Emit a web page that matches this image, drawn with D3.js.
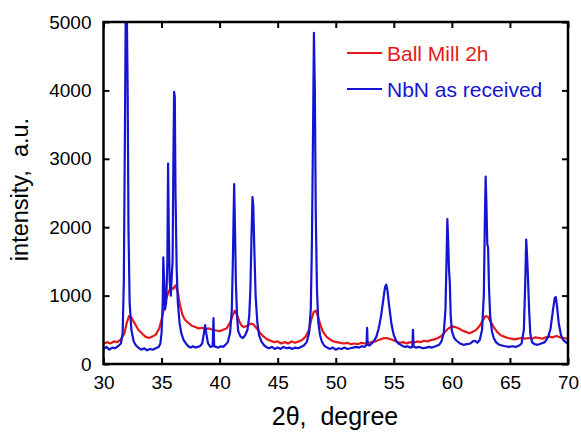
<!DOCTYPE html>
<html>
<head>
<meta charset="utf-8">
<script src="https://cdn.jsdelivr.net/npm/d3@7"></script>
<style>
  html, body { margin: 0; padding: 0; background: #fff; }
  svg { display: block; font-family: Arial, "Liberation Sans", sans-serif; }
</style>
</head>
<body>
<svg id="chart" width="581" height="434"></svg>
<script>
// ---- data (2θ in degrees, intensity in a.u.) ----
const seriesNames = ["Ball Mill 2h", "NbN as received"];
const seriesColors = ["#e41a1a", "#1414d2"];
const xTicks = [30, 35, 40, 45, 50, 55, 60, 65, 70];
const yTicks = [0, 1000, 2000, 3000, 4000, 5000];

const ballMill2h = [
  [30.0,290],[30.3,320],[30.6,300],[30.9,330],[31.2,320],[31.5,360],[31.8,450],[32.0,600],[32.2,700],[32.4,680],
  [32.6,620],[32.8,560],[33.0,500],[33.3,450],[33.6,400],[33.9,380],[34.2,400],[34.5,430],[34.8,520],[35.0,650],
  [35.2,800],[35.4,950],[35.6,1050],[35.8,1120],[36.0,1100],[36.2,1150],[36.4,1050],[36.6,850],[36.8,720],[37.0,650],
  [37.3,600],[37.6,560],[37.9,540],[38.2,520],[38.5,530],[38.8,510],[39.1,520],[39.4,500],[39.7,490],[40.0,480],
  [40.3,500],[40.6,520],[40.9,600],[41.1,700],[41.3,780],[41.5,720],[41.7,620],[41.9,560],[42.1,540],[42.4,560],
  [42.7,590],[42.9,580],[43.2,520],[43.5,450],[43.8,400],[44.1,360],[44.4,340],[44.7,320],[45.0,330],[45.3,300],
  [45.6,320],[45.9,300],[46.2,330],[46.5,310],[46.8,330],[47.1,350],[47.4,400],[47.7,500],[47.9,650],[48.1,760],
  [48.3,780],[48.5,680],[48.7,560],[48.9,470],[49.2,400],[49.5,360],[49.8,330],[50.1,320],[50.4,310],[50.7,300],
  [51.0,310],[51.3,290],[51.6,300],[51.9,290],[52.2,310],[52.5,300],[52.8,310],[53.1,320],[53.4,330],[53.7,350],
  [54.0,370],[54.3,380],[54.6,370],[54.9,350],[55.2,330],[55.5,310],[55.8,320],[56.1,300],[56.4,320],[56.7,310],
  [57.0,330],[57.3,320],[57.6,340],[57.9,330],[58.2,350],[58.5,360],[58.8,380],[59.1,410],[59.4,470],[59.7,520],
  [60.0,550],[60.3,540],[60.6,520],[60.9,490],[61.2,470],[61.5,450],[61.8,470],[62.1,500],[62.4,560],[62.7,650],
  [62.9,700],[63.1,690],[63.3,630],[63.6,540],[63.9,470],[64.2,420],[64.5,400],[64.8,380],[65.1,370],[65.4,360],
  [65.7,370],[66.0,380],[66.3,370],[66.6,380],[66.9,370],[67.2,390],[67.5,380],[67.8,370],[68.1,390],[68.4,400],
  [68.7,390],[69.0,410],[69.3,390],[69.6,380],[70.0,370]
];

const nbnAsReceived = [
  [30.0,220],[30.25,250],[30.5,210],[30.75,240],[31.0,230],[31.25,260],[31.5,300],[31.65,450],[31.75,1200],[31.85,3500],
  [31.92,5300],[32.0,5300],[32.08,4000],[32.15,2000],[32.25,900],[32.4,500],[32.6,330],[32.8,270],[33.0,240],[33.25,210],
  [33.5,230],[33.75,200],[34.0,220],[34.25,210],[34.5,230],[34.75,250],[34.9,300],[35.0,450],[35.1,900],[35.15,1560],
  [35.22,1200],[35.3,800],[35.4,900],[35.5,1500],[35.56,2930],[35.62,2000],[35.7,1200],[35.8,1000],[35.88,1300],[35.95,1500],
  [36.02,3000],[36.08,3980],[36.14,3900],[36.2,2500],[36.3,1400],[36.4,900],[36.55,600],[36.7,450],[36.9,350],[37.1,300],
  [37.3,260],[37.5,240],[37.7,260],[37.9,240],[38.1,250],[38.3,260],[38.5,300],[38.65,450],[38.75,570],[38.85,450],
  [39.0,300],[39.2,250],[39.4,260],[39.47,670],[39.53,260],[39.7,250],[39.9,240],[40.1,260],[40.3,250],[40.5,280],
  [40.7,320],[40.9,450],[41.05,800],[41.15,1600],[41.25,2630],[41.32,2000],[41.4,1200],[41.5,700],[41.6,480],[41.8,400],
  [42.0,380],[42.2,420],[42.4,500],[42.55,700],[42.65,1100],[42.75,1900],[42.83,2440],[42.9,2300],[43.0,1600],[43.1,1000],
  [43.25,600],[43.4,420],[43.6,330],[43.8,280],[44.0,250],[44.25,230],[44.5,250],[44.75,220],[45.0,240],[45.25,220],
  [45.5,250],[45.75,230],[46.0,240],[46.25,220],[46.5,240],[46.75,230],[47.0,250],[47.25,270],[47.5,320],[47.7,450],
  [47.85,800],[47.95,1800],[48.05,3500],[48.12,4840],[48.2,4000],[48.28,2200],[48.38,1100],[48.5,600],[48.65,420],[48.8,330],
  [49.0,270],[49.25,240],[49.5,220],[49.75,240],[50.0,210],[50.25,230],[50.5,220],[50.75,240],[51.0,220],[51.25,230],
  [51.5,240],[51.75,250],[52.0,240],[52.25,260],[52.5,250],[52.65,280],[52.7,530],[52.75,280],[52.9,270],[53.1,300],
  [53.3,340],[53.5,400],[53.7,520],[53.9,700],[54.1,950],[54.25,1130],[54.35,1160],[54.45,1080],[54.6,850],[54.8,580],
  [55.0,420],[55.2,340],[55.4,300],[55.6,280],[55.8,260],[56.0,250],[56.2,260],[56.4,240],[56.6,250],[56.65,500],
  [56.7,260],[56.9,240],[57.2,250],[57.5,230],[57.8,240],[58.0,250],[58.3,240],[58.6,260],[58.9,280],[59.1,330],
  [59.3,450],[59.45,800],[59.55,1600],[59.61,2120],[59.68,1800],[59.75,1380],[59.82,1200],[59.9,700],[60.0,480],[60.2,380],
  [60.4,340],[60.7,300],[61.0,280],[61.3,290],[61.6,300],[61.8,330],[62.0,340],[62.2,310],[62.4,350],[62.6,500],
  [62.75,1000],[62.85,2200],[62.91,2740],[62.98,2300],[63.05,1750],[63.12,1700],[63.2,1100],[63.3,700],[63.45,480],[63.6,380],
  [63.8,320],[64.0,290],[64.3,270],[64.6,260],[64.9,250],[65.2,260],[65.5,250],[65.8,270],[66.0,300],[66.2,500],
  [66.32,1200],[66.4,1820],[66.47,1600],[66.55,1280],[66.65,800],[66.75,450],[66.9,320],[67.1,290],[67.4,280],[67.7,300],
  [68.0,320],[68.3,400],[68.5,520],[68.7,780],[68.85,960],[68.95,980],[69.05,850],[69.2,600],[69.4,420],[69.6,350],
  [69.8,320],[70.0,300]
];

const allSeries = [ballMill2h, nbnAsReceived];

// ---- layout ----
const svg = d3.select("#chart");
const W = 581, H = 434;
const margin = { left: 103.5, right: W - 568, top: 22, bottom: H - 364 };
const x = d3.scaleLinear().domain([30, 70]).range([margin.left, W - margin.right]);
const y = d3.scaleLinear().domain([0, 5000]).range([H - margin.bottom, margin.top]);

svg.append("defs").append("clipPath").attr("id", "plotclip")
  .append("rect")
  .attr("x", x(30)).attr("y", y(5000))
  .attr("width", x(70) - x(30)).attr("height", y(0) - y(5000));

const line = d3.line().x(d => x(d[0])).y(d => y(d[1]));

const plot = svg.append("g").attr("clip-path", "url(#plotclip)");
allSeries.forEach((s, i) => {
  plot.append("path")
    .datum(s)
    .attr("fill", "none")
    .attr("stroke", seriesColors[i])
    .attr("stroke-width", 2.2)
    .attr("stroke-linejoin", "round")
    .attr("d", line);
});

// ---- axes (ticks inside, mirrored) ----
const tickLen = 6;
const fontTick = 19;
const axisStyle = g => {
  g.select(".domain").remove();
  g.selectAll(".tick line").attr("stroke", "#000").attr("stroke-width", 2);
  g.selectAll(".tick text").attr("fill", "#000").style("font-size", fontTick + "px");
};

svg.append("g").attr("transform", `translate(0,${y(0)})`)
  .call(d3.axisBottom(x).tickValues(xTicks).tickSizeInner(-tickLen).tickSizeOuter(0).tickPadding(12).tickFormat(d3.format("d")))
  .call(axisStyle);
svg.append("g").attr("transform", `translate(0,${y(5000)})`)
  .call(d3.axisTop(x).tickValues(xTicks).tickSizeInner(-tickLen).tickSizeOuter(0).tickFormat(""))
  .call(axisStyle);
svg.append("g").attr("transform", `translate(${x(30)},0)`)
  .call(d3.axisLeft(y).tickValues(yTicks).tickSizeInner(-tickLen).tickSizeOuter(0).tickPadding(12).tickFormat(d3.format("d")))
  .call(axisStyle);
svg.append("g").attr("transform", `translate(${x(70)},0)`)
  .call(d3.axisRight(y).tickValues(yTicks).tickSizeInner(-tickLen).tickSizeOuter(0).tickFormat(""))
  .call(axisStyle);

// frame
svg.append("rect")
  .attr("x", x(30)).attr("y", y(5000))
  .attr("width", x(70) - x(30)).attr("height", y(0) - y(5000))
  .attr("fill", "none").attr("stroke", "#000").attr("stroke-width", 2.5);

// ---- axis titles ----
svg.append("text")
  .attr("x", 335).attr("y", 425)
  .attr("text-anchor", "middle")
  .style("font-size", "25px")
  .attr("xml:space", "preserve")
  .text("2θ,  degree");

svg.append("text")
  .attr("transform", `translate(28,189.5) rotate(-90)`)
  .attr("text-anchor", "middle")
  .style("font-size", "23.5px")
  .attr("xml:space", "preserve")
  .text("intensity,  a.u.");

// ---- legend ----
const legend = svg.append("g");
seriesNames.forEach((name, i) => {
  const ly = 53 + i * 36;
  legend.append("line")
    .attr("x1", 347).attr("x2", 382).attr("y1", ly).attr("y2", ly)
    .attr("stroke", seriesColors[i]).attr("stroke-width", 2);
  legend.append("text")
    .attr("x", 387).attr("y", ly + 7.5)
    .attr("fill", seriesColors[i])
    .style("font-size", "21px")
    .text(name);
});
</script>
</body>
</html>
